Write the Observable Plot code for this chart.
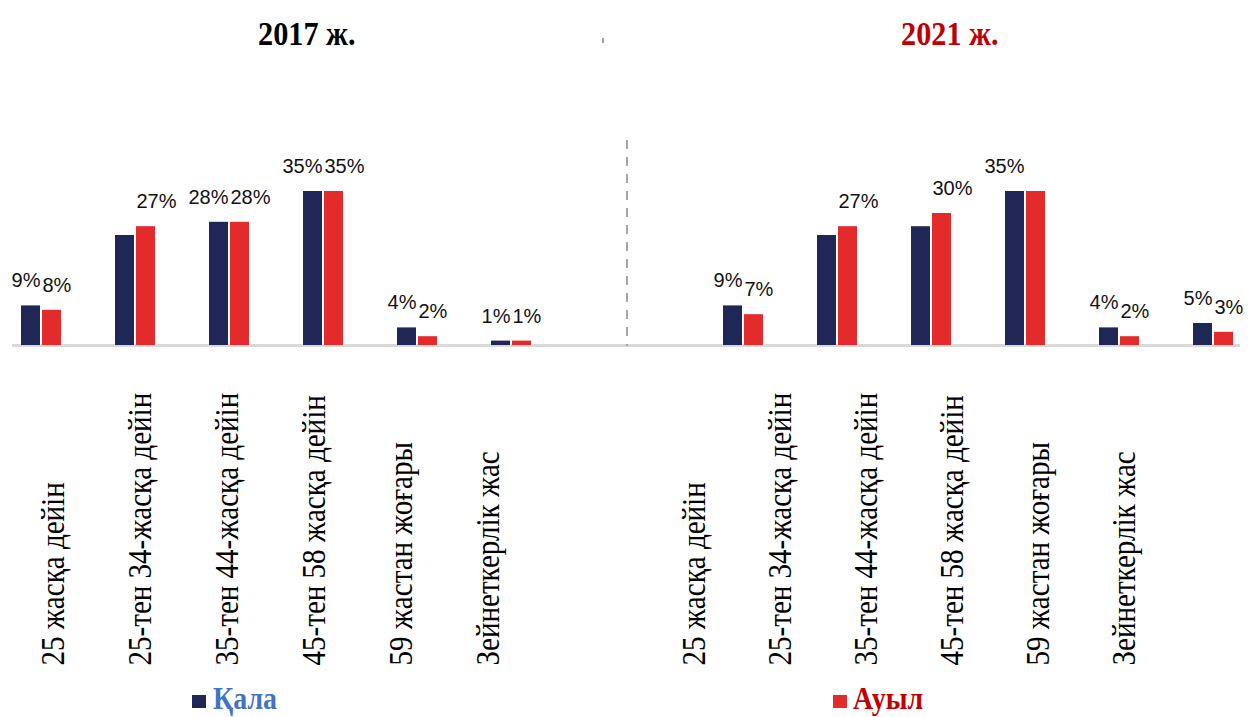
<!DOCTYPE html>
<html>
<head>
<meta charset="utf-8">
<script src="https://cdn.jsdelivr.net/npm/d3@7"></script>
<script src="https://cdn.jsdelivr.net/npm/@observablehq/plot@0.6"></script>
<style>
  html, body { margin: 0; padding: 0; background: #fff; }
  #root { position: relative; width: 1248px; height: 717px; overflow: hidden; }
  #root > * { position: absolute; }
  .title { font-family: "Liberation Serif", serif; font-weight: bold; font-size: 34px; line-height: 34px; top: 17px; white-space: nowrap; transform: scaleX(0.89); transform-origin: center; }
  .leg { font-family: "Liberation Serif", serif; font-weight: bold; font-size: 31px; line-height: 26px; top: 686px; white-space: nowrap; transform: scaleX(0.9); transform-origin: left; }
  .sw { width: 14px; height: 13px; top: 695px; }
</style>
</head>
<body>
<div id="root"></div>
<script>
// ---- data ----
const categories = ["25 жасқа дейін", "25-тен 34-жасқа дейін", "35-тен 44-жасқа дейін", "45-тен 58 жасқа дейін", "59 жастан жоғары", "Зейнеткерлік жас"];
const years = ["2017 ж.", "2021 ж."];
const series = ["Қала", "Ауыл"];
const city2017 = [9, 25, 28, 35, 4, 1];
const rural2017 = [8, 27, 28, 35, 2, 1];
const city2021 = [9, 25, 27, 35, 4, 5];
const rural2021 = [7, 27, 30, 35, 2, 3];
const cityLabels2017 = ["9%", "", "28%", "35%", "4%", "1%"];
const ruralLabels2017 = ["8%", "27%", "28%", "35%", "2%", "1%"];
const cityLabels2021 = ["9%", "", "", "35%", "4%", "5%"];
const ruralLabels2021 = ["7%", "27%", "30%", "", "2%", "3%"];

const NAVY = "#1f2757", RED = "#e32b2b";

function rows(city, rural, cityL, ruralL) {
  return categories.map((c, i) => ({cat: c, city: city[i], rural: rural[i], cityL: cityL[i], ruralL: ruralL[i]}));
}

function panel(data, xRange, mL, mR) {
  return Plot.plot({
    width: 624, height: 360,
    marginTop: 0, marginBottom: 0, marginLeft: mL, marginRight: mR,
    x: {type: "band", domain: categories, range: xRange, paddingInner: 0.575, paddingOuter: 0, axis: null},
    y: {domain: [0, 35], range: [345, 191], axis: null},
    marks: [
      Plot.ruleY([0], {stroke: "#d9d9d9", strokeWidth: 3}),
      Plot.barY(data, {x: "cat", y: "city", fill: NAVY, insetRight: 21}),
      Plot.barY(data, {x: "cat", y: "rural", fill: RED, insetLeft: 21}),
      Plot.text(data.filter(d => d.cityL), {x: "cat", y: "city", text: "cityL", textAnchor: "end", dx: -1, dy: -25,
        fontSize: 20, fontFamily: "Liberation Sans, Arial, sans-serif", fill: "#111"}),
      Plot.text(data.filter(d => d.ruralL), {x: "cat", y: "rural", text: "ruralL", textAnchor: "start", dx: 1, dy: -25,
        fontSize: 20, fontFamily: "Liberation Sans, Arial, sans-serif", fill: "#111"})
    ]
  });
}

function labelPanel(xRange) {
  const svg = Plot.plot({
    width: 624, height: 320,
    marginTop: 0, marginBottom: 5, marginLeft: 0, marginRight: 0,
    x: {type: "point", domain: categories, range: xRange, padding: 0, axis: null},
    marks: [
      Plot.text(categories, {x: d => d, text: d => d, frameAnchor: "bottom", rotate: -90, textAnchor: "start",
        fontSize: 33, fontFamily: "Liberation Serif, Times New Roman, serif", fill: "#000"})
    ]
  });
  // slightly condense glyphs along the reading direction (as in the reference)
  d3.select(svg).selectAll("text").each(function() {
    const t = this.getAttribute("transform");
    if (t && t.includes("rotate")) this.setAttribute("transform", t + " scale(0.88,1)");
  });
  return svg;
}

const root = document.getElementById("root");

const pA = panel(rows(city2017, rural2017, cityLabels2017, ruralLabels2017), [20, 531], 12, 0);
pA.style.left = "0px"; pA.style.top = "0px";
root.appendChild(pA);

const pB = panel(rows(city2021, rural2021, cityLabels2021, ruralLabels2021), [98, 609], 0, 8);
pB.style.left = "624px"; pB.style.top = "0px";
// dashed divider between the two years
d3.select(pB).append("line")
  .attr("x1", 3).attr("x2", 3).attr("y1", 140).attr("y2", 346)
  .attr("stroke", "#a6a6a6").attr("stroke-width", 2).attr("stroke-dasharray", "9,8");
root.appendChild(pB);

const lA = labelPanel([62, 498]);
lA.style.left = "0px"; lA.style.top = "350px";
root.appendChild(lA);

const lB = labelPanel([78, 511]);
lB.style.left = "624px"; lB.style.top = "350px";
root.appendChild(lB);

// titles
function addDiv(cls, text, css) {
  const d = document.createElement("div");
  d.className = cls; d.textContent = text;
  Object.assign(d.style, css);
  root.appendChild(d);
  return d;
}
const t1 = addDiv("title", years[0], {color: "#000"});
const t2 = addDiv("title", years[1], {color: "#c00000"});
t1.style.left = (307 - t1.offsetWidth / 2) + "px";
t2.style.left = (950 - t2.offsetWidth / 2) + "px";
addDiv("", "", {left: "602px", top: "38px", width: "2px", height: "5px", background: "#a0a0a0"});

// legend
addDiv("sw", "", {left: "192px", background: NAVY});
addDiv("leg", series[0], {left: "213px", color: "#4472c4"});
addDiv("sw", "", {left: "833px", background: RED});
addDiv("leg", series[1], {left: "853px", color: "#c00000"});
</script>
</body>
</html>
